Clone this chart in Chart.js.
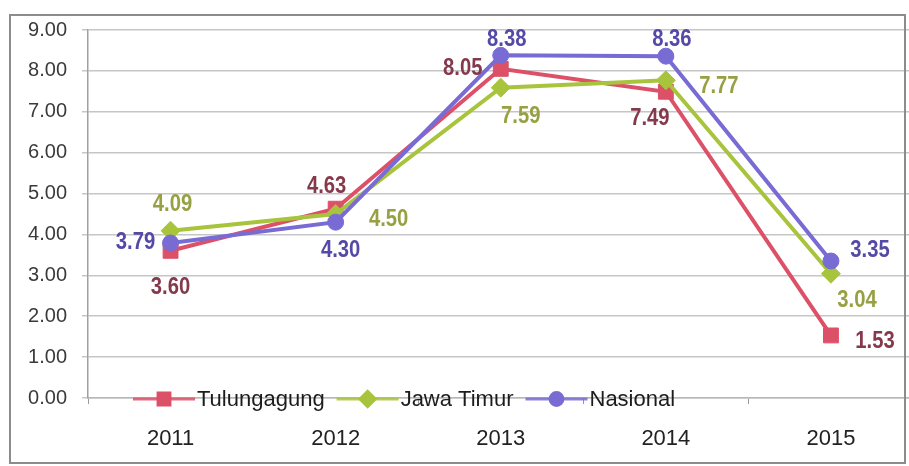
<!DOCTYPE html>
<html>
<head>
<meta charset="utf-8">
<script src="https://cdn.jsdelivr.net/npm/chart.js@4/dist/chart.umd.min.js"></script>
<style>
  html, body { margin: 0; padding: 0; background: #fff; overflow: hidden; }
  canvas { position: absolute; left: 0; top: 0; }
  #frame { position: absolute; left: 9px; top: 14px; width: 897px; height: 450px;
           border: 2px solid #8c8c8c; box-sizing: border-box; pointer-events: none; }
</style>
</head>
<body>
<canvas id="chart" width="925" height="466"></canvas>
<div id="frame"></div>
<script>
// data
const years = ['2011', '2012', '2013', '2014', '2015'];
const tulungagung = [3.60, 4.63, 8.05, 7.49, 1.53];
const jawaTimur = [4.09, 4.50, 7.59, 7.77, 3.04];
const nasional = [3.79, 4.30, 8.38, 8.36, 3.35];
const seriesNames = ['Tulungagung', 'Jawa Timur', 'Nasional'];
const yMin = 0, yMax = 9, yStep = 1;

// styles
const lineColors = ['#dc5068', '#a8c43c', '#786cd4'];
const labelColors = ['#84394c', '#97a043', '#5549a8'];
const markers = ['rect', 'rectRot', 'circle'];
const markerRadius = [10.5, 9.5, 8];

// where each value label sits, relative to its point (dx, dy)
const labelOffsets = [
  [[0, 37], [-9, -22], [-38, 0], [-16, 27], [44, 6]],
  [[2, -26], [53, 6], [20, 29], [53, 6], [26, 27]],
  [[-35, 0], [5, 28], [6, -16], [6, -17], [39, -10]]
];

const valueLabels = {
  id: 'valueLabels',
  afterDatasetsDraw(chart) {
    const ctx = chart.ctx;
    chart.data.datasets.forEach((ds, di) => {
      const meta = chart.getDatasetMeta(di);
      meta.data.forEach((pt, i) => {
        const [dx, dy] = labelOffsets[di][i];
        ctx.save();
        ctx.translate(pt.x + dx, pt.y + dy);
        ctx.scale(0.88, 1);
        ctx.font = 'bold 23px "Liberation Sans", Arial, sans-serif';
        ctx.fillStyle = labelColors[di];
        ctx.textAlign = 'center';
        ctx.textBaseline = 'middle';
        ctx.fillText(ds.data[i].toFixed(2), 0, 0);
        ctx.restore();
      });
    });
  }
};

// legend sits inside the plot, on the zero line
const innerLegend = {
  id: 'innerLegend',
  afterDraw(chart) {
    const ctx = chart.ctx;
    const y = chart.scales.y.getPixelForValue(0) + 1;
    let x = 133;
    ctx.save();
    ctx.font = '22px "Liberation Sans", Arial, sans-serif';
    ctx.textBaseline = 'middle';
    chart.data.datasets.forEach((ds, di) => {
      ctx.strokeStyle = lineColors[di];
      ctx.globalAlpha = 0.85;
      ctx.lineWidth = 3;
      ctx.beginPath();
      ctx.moveTo(x, y);
      ctx.lineTo(x + 62, y);
      ctx.stroke();
      ctx.globalAlpha = 1;
      Chart.helpers.drawPoint(ctx, {
        pointStyle: markers[di], radius: markerRadius[di] * 0.8, borderWidth: 1
      }, x + 31, y);
      ctx.fillStyle = lineColors[di];
      ctx.fill();
      x += 64;
      ctx.fillStyle = '#1c1c1c';
      ctx.fillText(ds.label, x, y + 1);
      x += ctx.measureText(ds.label).width + 12;
    });
    ctx.restore();
  }
};

const allSeries = [tulungagung, jawaTimur, nasional];

new Chart(document.getElementById('chart'), {
  type: 'line',
  data: {
    labels: years,
    datasets: allSeries.map((vals, i) => ({
      label: seriesNames[i],
      data: vals,
      borderColor: lineColors[i],
      backgroundColor: lineColors[i],
      borderWidth: 4,
      pointStyle: markers[i],
      pointRadius: markerRadius[i],
      pointBorderWidth: 1,
      pointBorderColor: lineColors[i],
      pointBackgroundColor: lineColors[i],
      tension: 0,
      fill: false,
      order: 2 - i
    }))
  },
  options: {
    responsive: false,
    animation: false,
    layout: { padding: { top: 30, right: 8, bottom: 0, left: 0 } },
    plugins: { legend: { display: false }, tooltip: { enabled: false } },
    scales: {
      x: {
        offset: true,
        grid: { display: true, drawOnChartArea: false, drawTicks: true, tickLength: 6, color: '#9a9a9a', offset: true },
        border: { display: true, color: '#b8b8b8', width: 1.5 },
        ticks: { color: '#222', font: { family: '"Liberation Sans", Arial, sans-serif', size: 22 }, padding: 22, maxRotation: 0 },
        afterFit(s) { s.height = 68; }
      },
      y: {
        min: yMin,
        max: yMax,
        ticks: {
          stepSize: yStep,
          color: '#3a3a3a',
          padding: 15,
          font: { family: '"Liberation Sans", Arial, sans-serif', size: 20 },
          callback: v => v.toFixed(2)
        },
        grid: { color: '#c6c6c6', lineWidth: 1.5, tickLength: 6 },
        border: { display: true, color: '#a0a0a0', width: 1.5 },
        afterFit(s) { s.width = 88; }
      }
    }
  },
  plugins: [valueLabels, innerLegend]
});
</script>
</body>
</html>
